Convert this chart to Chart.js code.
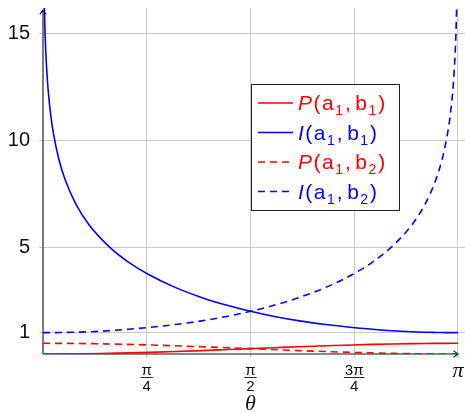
<!DOCTYPE html>
<html>
<head>
<meta charset="utf-8">
<script src="https://cdn.jsdelivr.net/npm/chart.js@4.4.0/dist/chart.umd.min.js"></script>
<style>
  html, body { margin: 0; padding: 0; background: #fff; }
  #wrap { width: 465px; height: 413px; }
</style>
</head>
<body>
<div id="wrap"><canvas id="grafico" width="465" height="413"></canvas></div>
<script>
// angulo theta (rad), mais denso perto de 0 e de pi onde I dispara
const theta = [0, 0.01, 0.015, 0.02, 0.03, 0.04, 0.06, 0.08, 0.12, 0.17, 0.25, 0.35, 0.5, 0.65, 0.8, 1.0, 1.2, 1.4,
  1.571, 1.742, 1.942, 2.142, 2.342, 2.492, 2.642, 2.792, 2.892, 2.972, 3.022, 3.062, 3.082, 3.102, 3.112, 3.122, 3.127, 3.132, 3.142];

const pA1B1 = [0, 0, 0, 0, 0, 0, 0, 0.001, 0.002, 0.004, 0.008, 0.015, 0.031, 0.051, 0.076, 0.115, 0.159, 0.208,
  0.25, 0.292, 0.341, 0.385, 0.424, 0.449, 0.469, 0.485, 0.492, 0.496, 0.498, 0.499, 0.5, 0.5, 0.5, 0.5, 0.5, 0.5, 0.5];
const iA1B1 = [null, 16.29, 15.12, 14.29, 13.12, 12.29, 11.12, 10.29, 9.12, 8.12, 7.01, 6.04, 5.03, 4.29, 3.72, 3.12, 2.65, 2.27,
  2.0, 1.77, 1.55, 1.38, 1.24, 1.16, 1.09, 1.04, 1.02, 1.01, 1.005, 1.0, 1.0, 1.0, 1.0, 1.0, 1.0, 1.0, 1.0];
const pA1B2 = [0.5, 0.5, 0.5, 0.5, 0.5, 0.5, 0.5, 0.499, 0.498, 0.496, 0.492, 0.485, 0.469, 0.449, 0.424, 0.385, 0.341, 0.292,
  0.25, 0.208, 0.159, 0.115, 0.076, 0.051, 0.031, 0.015, 0.008, 0.004, 0.002, 0.001, 0, 0, 0, 0, 0, 0, 0];
const iA1B2 = [1.0, 1.0, 1.0, 1.0, 1.0, 1.0, 1.0, 1.0, 1.005, 1.01, 1.02, 1.04, 1.09, 1.16, 1.24, 1.38, 1.55, 1.77,
  2.0, 2.27, 2.65, 3.12, 3.72, 4.29, 5.03, 6.04, 7.01, 8.12, 9.12, 10.29, 11.12, 12.29, 13.12, 14.29, 15.12, 16.29, null];

const nomesSeries = ['P(a₁, b₁)', 'I(a₁, b₁)', 'P(a₁, b₂)', 'I(a₁, b₂)'];

const xTicks = [Math.PI / 4, Math.PI / 2, 3 * Math.PI / 4, Math.PI];
const xTickLabels = [['π', '4'], ['π', '2'], ['3π', '4'], ['π']];
const yTicks = [1, 5, 10, 15];
const tituloX = 'θ';

const VERMELHO = '#ff0000';
const AZUL = '#0000ff';
const GRADE = '#c8c8c8';
const SANS = '"Liberation Sans", Arial, sans-serif';
const SERIF = '"Liberation Serif", serif';

function pontos(ys) {
  return theta.map((t, i) => ({ x: t, y: ys[i] }));
}

function serie(label, ys, cor, tracejado) {
  return {
    label: label,
    data: pontos(ys),
    borderColor: cor,
    backgroundColor: 'transparent',
    borderWidth: 1.6,
    borderDash: tracejado ? [7, 5] : [],
    pointRadius: 0,
    cubicInterpolationMode: 'monotone',
    spanGaps: false
  };
}

// seta estilo "->" no fim de um eixo
function seta(ctx, x, y, dir) {
  ctx.beginPath();
  if (dir === 'up') {
    ctx.moveTo(x - 3.3, y + 4.5);
    ctx.quadraticCurveTo(x - 0.8, y + 1.5, x, y);
    ctx.quadraticCurveTo(x + 0.8, y + 1.5, x + 3.3, y + 4.5);
  } else {
    ctx.moveTo(x - 4.5, y - 3.3);
    ctx.quadraticCurveTo(x - 1.5, y - 0.8, x, y);
    ctx.quadraticCurveTo(x - 1.5, y + 0.8, x - 4.5, y + 3.3);
  }
  ctx.stroke();
}

// legenda com P/I em itálico e subscritos menores
function desenharLegenda(chart) {
  const ctx = chart.ctx;
  const caixa = { x: 251.5, y: 84.5, w: 148, h: 126 };
  ctx.save();
  ctx.fillStyle = '#fff';
  ctx.fillRect(caixa.x, caixa.y, caixa.w, caixa.h);
  ctx.strokeStyle = '#222';
  ctx.lineWidth = 1;
  ctx.setLineDash([]);
  ctx.strokeRect(caixa.x, caixa.y, caixa.w, caixa.h);

  chart.data.datasets.forEach((ds, i) => {
    const y = 103 + i * 29.5;
    ctx.strokeStyle = ds.borderColor;
    ctx.lineWidth = ds.borderWidth;
    ctx.setLineDash(ds.borderDash);
    ctx.beginPath();
    ctx.moveTo(258, y);
    ctx.lineTo(293, y);
    ctx.stroke();
    ctx.setLineDash([]);

    ctx.fillStyle = ds.borderColor;
    ctx.textBaseline = 'alphabetic';
    ctx.textAlign = 'left';
    let x = 298;
    Array.from(ds.label).forEach((ch, k) => {
      if (ch === '₁' || ch === '₂') {
        const dig = ch === '₁' ? '1' : '2';
        ctx.font = '14px ' + SANS;
        ctx.fillText(dig, x, y + 12);
        x += ctx.measureText(dig).width + 2;
      } else if (ch === ' ') {
        x += 3;
      } else {
        ctx.font = (k === 0 ? 'italic ' : '') + '21px ' + SANS;
        ctx.fillText(ch, x, y + 7);
        x += ctx.measureText(ch).width + 1.5;
      }
    });
  });
  ctx.restore();
}

const eixos = {
  id: 'eixos',
  beforeDatasetsDraw(chart) {
    const ctx = chart.ctx;
    const xs = chart.scales.x, ys = chart.scales.y;
    const x0 = xs.getPixelForValue(0);
    const y0 = ys.getPixelForValue(0);
    const xFim = xs.getPixelForValue(Math.PI);
    const yFim = chart.chartArea.top + 2;
    ctx.save();
    ctx.strokeStyle = '#111';
    ctx.lineWidth = 1.1;
    ctx.beginPath();
    ctx.moveTo(x0, y0);
    ctx.lineTo(xFim, y0);
    ctx.moveTo(x0, y0);
    ctx.lineTo(x0, yFim);
    ctx.stroke();
    seta(ctx, xFim, y0, 'right');
    seta(ctx, x0, yFim, 'up');
    ctx.restore();
  },
  afterDraw(chart) {
    const ctx = chart.ctx;
    const xs = chart.scales.x;
    ctx.save();
    ctx.fillStyle = '#111';
    ctx.strokeStyle = '#111';
    ctx.textAlign = 'center';
    ctx.textBaseline = 'middle';
    xTicks.forEach((v, i) => {
      const px = xs.getPixelForValue(v);
      const lab = xTickLabels[i];
      if (lab.length === 2) {
        ctx.font = '15px ' + SANS;
        ctx.fillText(lab[0], px, 371);
        ctx.fillText(lab[1], px, 386.5);
        const w = Math.max(ctx.measureText(lab[0]).width, ctx.measureText(lab[1]).width) + 2;
        ctx.lineWidth = 0.9;
        ctx.beginPath();
        ctx.moveTo(px - w / 2, 377.5);
        ctx.lineTo(px + w / 2, 377.5);
        ctx.stroke();
      } else {
        ctx.font = 'italic 22px ' + SERIF;
        ctx.fillText(lab[0], px, 371);
      }
    });
    ctx.font = 'italic 22px ' + SERIF;
    ctx.fillText(tituloX, xs.getPixelForValue(Math.PI / 2), 404);
    ctx.restore();
    desenharLegenda(chart);
  }
};

// sem folga extra dos rótulos: a área do gráfico fica onde o layout manda
function semFolga(s) {
  s.paddingTop = 0;
  s.paddingBottom = 0;
  s.paddingLeft = 0;
  s.paddingRight = 0;
}

new Chart(document.getElementById('grafico').getContext('2d'), {
  type: 'line',
  data: {
    datasets: [
      serie(nomesSeries[0], pA1B1, VERMELHO, false),
      serie(nomesSeries[1], iA1B1, AZUL, false),
      serie(nomesSeries[2], pA1B2, VERMELHO, true),
      serie(nomesSeries[3], iA1B2, AZUL, true)
    ]
  },
  options: {
    responsive: false,
    animation: false,
    devicePixelRatio: 1,
    layout: { padding: { top: 8, left: 0, right: 0, bottom: 0 } },
    scales: {
      x: {
        type: 'linear',
        min: 0,
        max: 3.195,
        afterBuildTicks: s => { s.ticks = xTicks.map(v => ({ value: v })); },
        afterFit: s => { s.height = 59; semFolga(s); },
        grid: { color: GRADE, lineWidth: 1, tickLength: 4, drawTicks: true },
        border: { display: false },
        ticks: { callback: () => '' }
      },
      y: {
        min: 0,
        max: 16.2,
        afterBuildTicks: s => { s.ticks = yTicks.map(v => ({ value: v })); },
        afterFit: s => { s.width = 43; semFolga(s); },
        grid: { color: GRADE, lineWidth: 1, tickLength: 4, drawTicks: true },
        border: { display: false },
        ticks: { color: '#111', padding: 9, font: { family: SANS, size: 20 } }
      }
    },
    plugins: {
      legend: { display: false },
      tooltip: { enabled: false }
    }
  },
  plugins: [eixos]
});
</script>
</body>
</html>
